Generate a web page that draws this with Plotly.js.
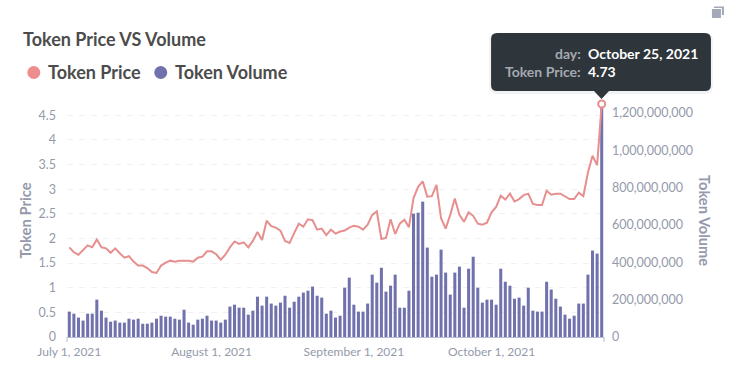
<!DOCTYPE html>
<html>
<head>
<meta charset="utf-8">
<script src="https://cdn.plot.ly/plotly-3.0.1.min.js"></script>
<style>html,body{margin:0;padding:0;background:#fff;overflow:hidden}#chart{width:734px;height:376px}</style>
</head>
<body>
<div id="chart"></div>
<script>
const days = [
"2021-07-01","2021-07-02","2021-07-03","2021-07-04","2021-07-05","2021-07-06","2021-07-07","2021-07-08","2021-07-09","2021-07-10",
"2021-07-11","2021-07-12","2021-07-13","2021-07-14","2021-07-15","2021-07-16","2021-07-17","2021-07-18","2021-07-19","2021-07-20",
"2021-07-21","2021-07-22","2021-07-23","2021-07-24","2021-07-25","2021-07-26","2021-07-27","2021-07-28","2021-07-29","2021-07-30","2021-07-31",
"2021-08-01","2021-08-02","2021-08-03","2021-08-04","2021-08-05","2021-08-06","2021-08-07","2021-08-08","2021-08-09","2021-08-10",
"2021-08-11","2021-08-12","2021-08-13","2021-08-14","2021-08-15","2021-08-16","2021-08-17","2021-08-18","2021-08-19","2021-08-20",
"2021-08-21","2021-08-22","2021-08-23","2021-08-24","2021-08-25","2021-08-26","2021-08-27","2021-08-28","2021-08-29","2021-08-30","2021-08-31",
"2021-09-01","2021-09-02","2021-09-03","2021-09-04","2021-09-05","2021-09-06","2021-09-07","2021-09-08","2021-09-09","2021-09-10",
"2021-09-11","2021-09-12","2021-09-13","2021-09-14","2021-09-15","2021-09-16","2021-09-17","2021-09-18","2021-09-19","2021-09-20",
"2021-09-21","2021-09-22","2021-09-23","2021-09-24","2021-09-25","2021-09-26","2021-09-27","2021-09-28","2021-09-29","2021-09-30",
"2021-10-01","2021-10-02","2021-10-03","2021-10-04","2021-10-05","2021-10-06","2021-10-07","2021-10-08","2021-10-09","2021-10-10",
"2021-10-11","2021-10-12","2021-10-13","2021-10-14","2021-10-15","2021-10-16","2021-10-17","2021-10-18","2021-10-19","2021-10-20",
"2021-10-21","2021-10-22","2021-10-23","2021-10-24","2021-10-25"];
const tokenPrice = [
1.82,1.72,1.67,1.77,1.86,1.82,1.98,1.82,1.80,1.71,
1.80,1.70,1.61,1.64,1.53,1.45,1.45,1.40,1.32,1.30,
1.45,1.51,1.55,1.53,1.55,1.55,1.55,1.53,1.61,1.63,1.74,
1.74,1.68,1.57,1.67,1.82,1.94,1.89,1.92,1.82,1.95,
2.13,1.97,2.36,2.25,2.22,2.16,1.95,1.91,2.11,2.30,
2.24,2.39,2.37,2.18,2.20,2.07,2.18,2.10,2.14,2.16,2.22,
2.26,2.24,2.18,2.28,2.48,2.55,1.99,2.01,2.39,2.09,
2.30,2.38,2.23,2.82,3.05,3.16,2.85,2.86,3.09,2.41,
2.20,2.48,2.81,2.48,2.34,2.53,2.46,2.30,2.28,2.32,
2.53,2.64,2.87,2.79,2.91,2.75,2.80,2.88,2.91,2.70,
2.68,2.68,2.97,2.89,2.91,2.91,2.86,2.80,2.80,2.93,
2.86,3.34,3.68,3.49,4.73];
const tokenVolume = [
136,125,104,88,125,125,200,141,104,82,
88,77,77,98,93,98,71,71,77,98,
114,109,109,98,93,146,77,66,93,98,114,
88,88,77,93,163,173,157,157,120,141,
216,168,216,179,168,184,221,157,189,216,
238,248,270,221,211,125,141,104,114,264,318,
173,136,136,179,334,291,371,243,275,334,
157,157,248,661,666,725,479,323,334,468,
345,227,345,377,157,366,430,264,184,200,
200,173,366,296,275,205,211,168,264,141,
136,136,296,254,205,163,120,98,114,179,
179,334,463,447,1240].map(v => v * 1e6);
const xTickVals = ["2021-07-01","2021-08-01","2021-09-01","2021-10-01"];
const xTickText = ["July 1, 2021","August 1, 2021","September 1, 2021","October 1, 2021"];
const priceTicks = [0,0.5,1,1.5,2,2.5,3,3.5,4,4.5];
const priceTickText = ["0","0.5","1","1.5","2","2.5","3","3.5","4","4.5"];
const volumeTicks = [0,200e6,400e6,600e6,800e6,1000e6,1200e6];

const W = 734, H = 376, ML = 66.7, MR = 130, MT = 104, MB = 39;
const px = v => (v - ML) / (W - ML - MR), py = v => (H - MB - v) / (H - MT - MB);
const FONT = "Lato, 'Open Sans', sans-serif";
const PINK = "#E78F8F", PURPLE = "#7172AD", GREY = "#949AAB", DARK = "#4C4C4C", TIP = "#2E353B";

function rr(x0, y0, x1, y1, r) {
  const X = px, Y = py;
  return `M${X(x0+r)},${Y(y0)} L${X(x1-r)},${Y(y0)} Q${X(x1)},${Y(y0)} ${X(x1)},${Y(y0+r)} L${X(x1)},${Y(y1-r)} Q${X(x1)},${Y(y1)} ${X(x1-r)},${Y(y1)} L${X(x0+r)},${Y(y1)} Q${X(x0)},${Y(y1)} ${X(x0)},${Y(y1-r)} L${X(x0)},${Y(y0+r)} Q${X(x0)},${Y(y0)} ${X(x0+r)},${Y(y0)} Z`;
}
const paperShape = o => Object.assign({xref:"paper", yref:"paper", layer:"above"}, o);
const txt = (text, x, y, size, color, anchor, extra) => Object.assign({
  text, xref:"paper", yref:"paper", x:px(x), y:py(y), xanchor:anchor, yanchor:"middle",
  showarrow:false, font:{family:FONT, size, color}
}, extra || {});

const last = days.length - 1;
const traces = [
  {type:"bar", x:days, y:tokenVolume, name:"Token Volume", yaxis:"y", marker:{color:PURPLE, line:{width:0}}, width:0.66*86400000, hoverinfo:"skip"},
  {type:"scatter", mode:"lines", x:days, y:tokenPrice, name:"Token Price", yaxis:"y2", line:{color:PINK, width:2, shape:"linear"}, hoverinfo:"skip"},
  {type:"scatter", mode:"markers", x:[days[last]], y:[tokenPrice[last]], yaxis:"y2", cliponaxis:false, showlegend:false, hoverinfo:"skip",
   marker:{size:7, color:"#fff", line:{color:PINK, width:2}}}
];

const layout = {
  width:W, height:H, showlegend:false, paper_bgcolor:"#fff", plot_bgcolor:"rgba(0,0,0,0)",
  margin:{l:ML, r:MR, t:MT, b:MB, pad:0},
  font:{family:FONT, color:GREY, size:12},
  bargap:0.34,
  xaxis:{type:"date", range:["2021-06-30 12:00","2021-10-25 12:00"], tickmode:"array", tickvals:xTickVals, ticktext:xTickText,
    showgrid:false, zeroline:false, showline:true, linecolor:"#B8BBD3", linewidth:1, ticks:"", tickfont:{family:FONT,size:12,color:GREY}, ticklabelstandoff:4},
  yaxis:{side:"right", range:[0,1248e6], tickmode:"array", tickvals:volumeTicks, tickformat:",d", showgrid:false, zeroline:false, showline:false, ticks:"",
    tickfont:{family:FONT,size:12.5,color:GREY}, ticklabelstandoff:7},
  yaxis2:{overlaying:"y", side:"left", range:[0,4.73], tickmode:"array", tickvals:priceTicks, ticktext:priceTickText, showgrid:true, gridcolor:"#F1F1F1", griddash:"6px,6px", gridwidth:1,
    zeroline:false, showline:false, ticks:"", tickfont:{family:FONT,size:12.5,color:GREY}, ticklabelstandoff:10,
    title:{text:"<b>Token Price</b>", font:{family:FONT,size:14.8,color:GREY}, standoff:3}},
  shapes:[
    paperShape({type:"line", x0:0, x1:0, y0:py(337), y1:py(342), line:{color:"#B8BBD3",width:1}}),
    paperShape({type:"line", x0:1, x1:1, y0:py(337), y1:py(342), line:{color:"#B8BBD3",width:1}}),
    paperShape({type:"circle", x0:px(27), x1:px(40), y0:py(66), y1:py(79), fillcolor:"#EF8C8C", line:{width:0}}),
    paperShape({type:"circle", x0:px(154), x1:px(167), y0:py(66), y1:py(79), fillcolor:PURPLE, line:{width:0}}),
    paperShape({type:"path", path:rr(489,33,713,94,8), fillcolor:"rgba(0,0,0,0.05)", line:{width:0}}),
    paperShape({type:"path", path:rr(491,33,711,91,6), fillcolor:TIP, line:{width:0}}),
    paperShape({type:"path", path:`M${px(594)},${py(91)} L${px(609)},${py(91)} L${px(601.5)},${py(99)} Z`, fillcolor:TIP, line:{width:0}}),
    paperShape({type:"rect", x0:px(712), x1:px(721), y0:py(9), y1:py(18), fillcolor:"#A3A9B8", line:{width:0}}),
    paperShape({type:"path", path:`M${px(714)},${py(9)} L${px(714)},${py(6.5)} L${px(724)},${py(6.5)} L${px(724)},${py(15)} L${px(722)},${py(15)} L${px(722)},${py(8)} L${px(714)},${py(8)} Z`, fillcolor:"#A3A9B8", line:{width:0}})
  ],
  annotations:[
    txt("<b>Token Price VS Volume</b>", 21, 39, 18, DARK, "left"),
    txt("<b>Token Price</b>", 46, 72, 18, DARK, "left"),
    txt("<b>Token Volume</b>", 173, 72, 18, DARK, "left"),
    txt("<b>Token Volume</b>", 705, 221, 14.6, GREY, "center", {textangle:90}),
    txt("<b>day:</b>", 583, 53, 14, "#A5A9B2", "right"),
    txt("<b>Token Price:</b>", 583, 72, 14, "#A5A9B2", "right"),
    txt("<b>October 25, 2021</b>", 586, 53, 14, "#FFFFFF", "left"),
    txt("<b>4.73</b>", 586, 72, 14, "#FFFFFF", "left")
  ]
};
Plotly.newPlot("chart", traces, layout, {displayModeBar:false, staticPlot:true});
</script>
</body>
</html>
